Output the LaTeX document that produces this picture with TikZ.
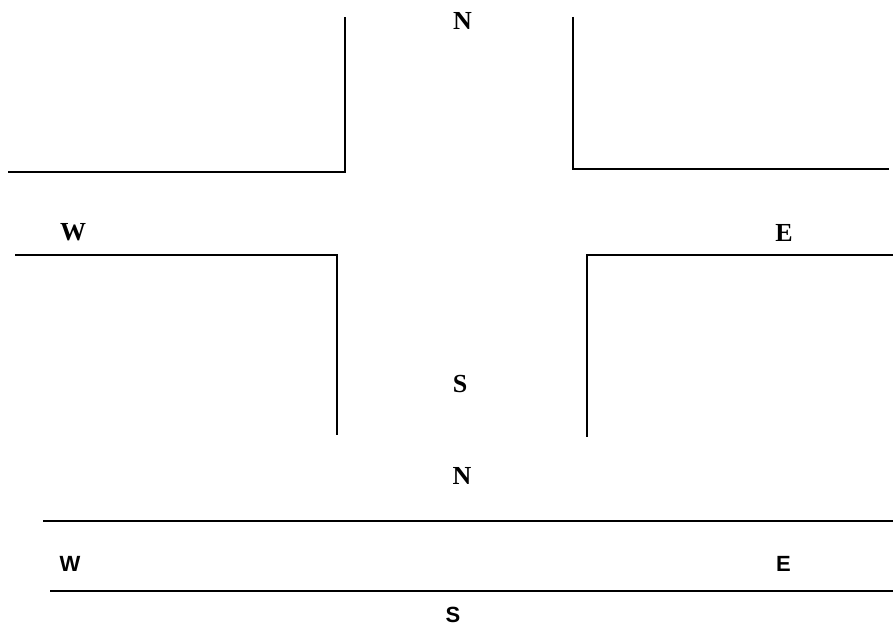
\documentclass[tikz,border=0pt]{standalone}
\usepackage{fontspec}
\newfontfamily\dirserif{Liberation Serif}
\newfontfamily\dirsans{Liberation Sans}
\usetikzlibrary{calc}
\tikzset{
kerb/.style={black,line width=1.6pt},
dirlabel/.style={inner sep=0pt,anchor=center,font=\dirserif\bfseries\fontsize{26}{30}\selectfont},
dirlabel2/.style={dirlabel,font=\dirsans\bfseries\fontsize{22}{26}\selectfont}
}
\begin{document}
\begin{tikzpicture}[x=1pt,y=-1pt]
    \useasboundingbox (0,0) rectangle (893,626);
    {
      % crossroads
      \coordinate (nw) at (345,172);
      \coordinate (ne) at (573,169);
      \coordinate (sw) at (337,255);
      \coordinate (se) at (587,255);
      \draw[kerb] (8,172) -- (nw) -- (345,17);
      \draw[kerb] (573,17) -- (ne) -- (889,169);
      \draw[kerb] (15,255) -- (sw) -- (337,435);
      \draw[kerb] (893,255) -- (se) -- (587,437);
      %
      \node[dirlabel](n1) at (462.5,20.5) {N};
      \node[dirlabel](w1) at (73,232.5) {W};
      \node[dirlabel](e1) at (784,232.5) {E};
      \node[dirlabel](s1) at (460,384.5) {S};
      % straight road
      \draw[kerb] (43,521) -- (893,521);
      \draw[kerb] (50,591) -- (893,591);
      %
      \node[dirlabel](n2) at (462,475.5) {N};
      \node[dirlabel2](w2) at (70,563.5) {W};
      \node[dirlabel2](e2) at (783.5,564) {E};
      \node[dirlabel2](s2) at (453,615) {S};
    }
\end{tikzpicture}
\end{document}
